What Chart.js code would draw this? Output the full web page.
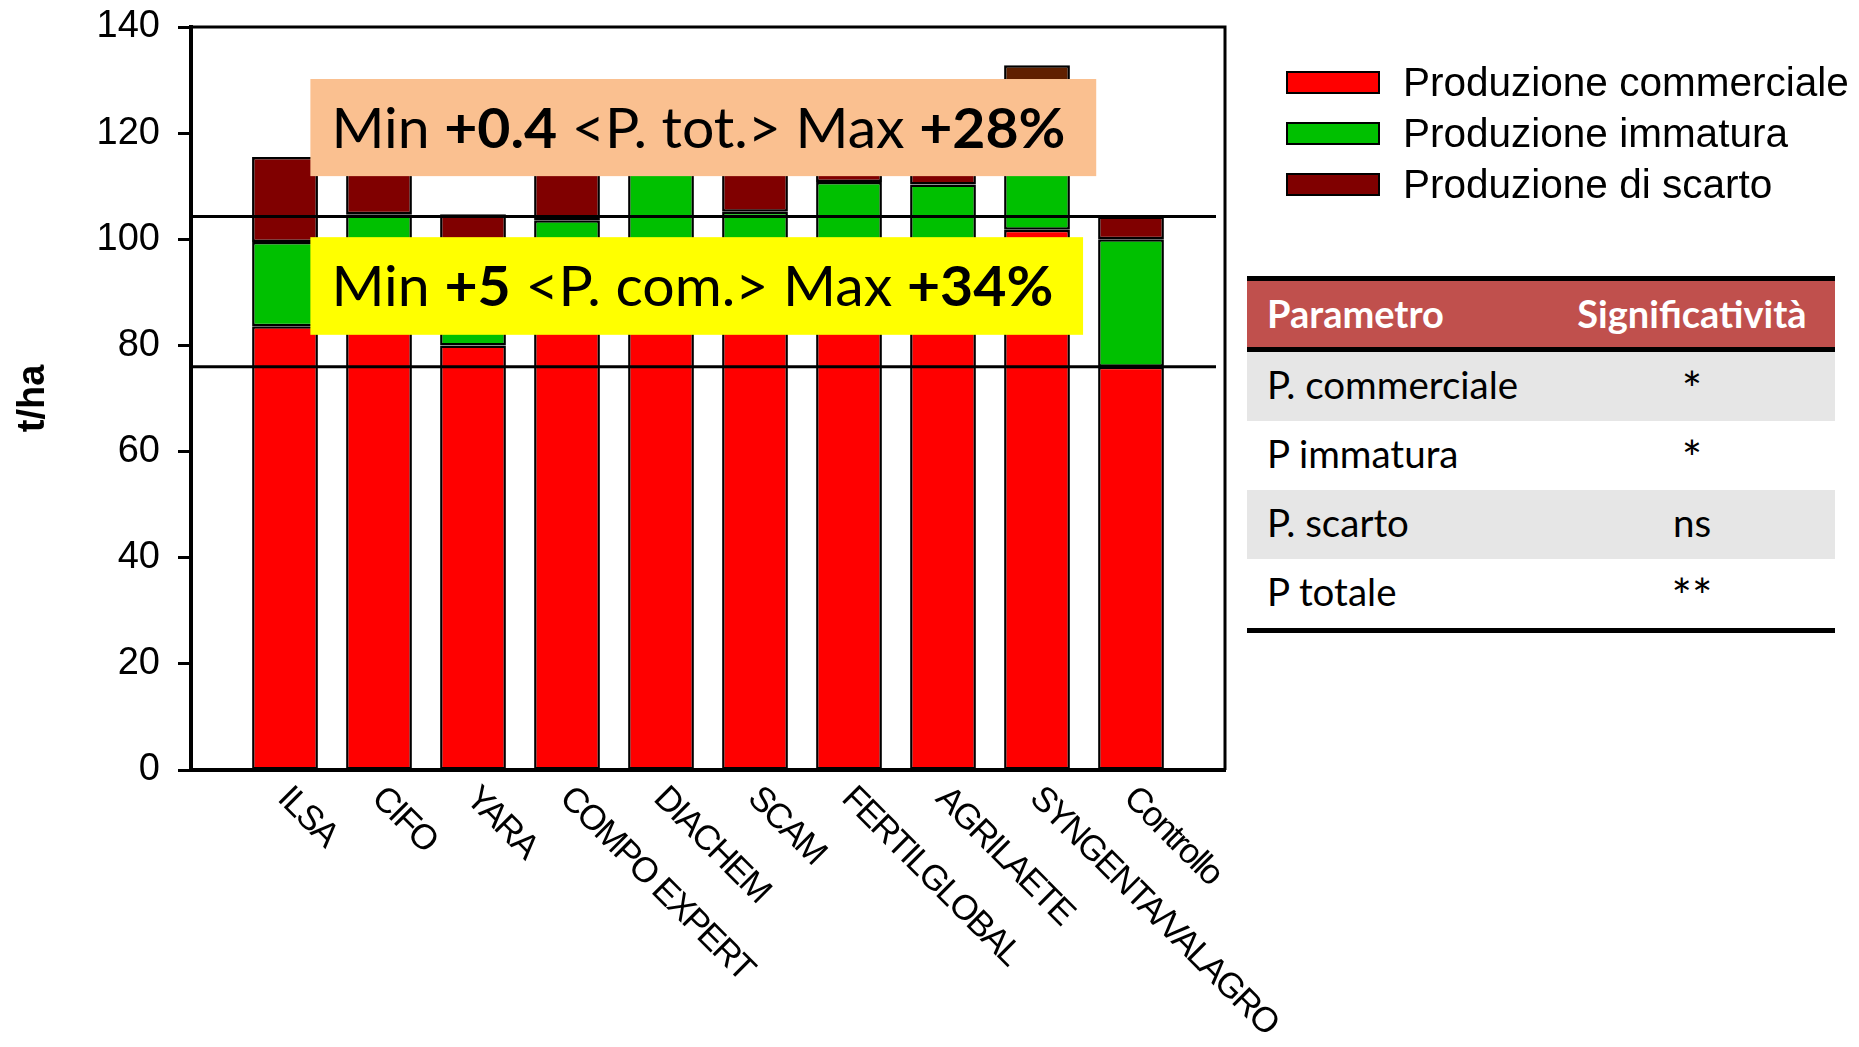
<!DOCTYPE html>
<html>
<head>
<meta charset="utf-8">
<script src="https://cdn.jsdelivr.net/npm/chart.js@4.4.0/dist/chart.umd.min.js"></script>
<style>
body { margin: 0; background: #fff; }
#wrap { position: relative; width: 1859px; height: 1047px; overflow: hidden; }
#wrap canvas { position: absolute; left: 0; top: 0; }
.leg-row { position: absolute; left: 1286px; height: 24px; display: flex; align-items: center; font: 40.5px "Liberation Sans", Arial, sans-serif; color: #000; white-space: nowrap; }
.leg-box { width: 90px; height: 19px; border: 2.5px solid #000; margin-right: 23px; }
.tbl { position: absolute; left: 1247px; width: 588px; font-family: Lato, "Open Sans", sans-serif; }
.tbl-line { position: absolute; left: 0; width: 588px; height: 5px; background: #000; }
.tbl-row { position: absolute; left: 0; width: 588px; display: flex; align-items: center; box-sizing: border-box; padding-bottom: 6px; }
.tbl-row .c1 { width: 282px; padding-left: 20px; }
.tbl-row .c2 { width: 286px; text-align: center; }
.star { font-size: 48px; position: relative; top: 5px; }
</style>
</head>
<body>
<div id="wrap">
  <canvas id="prodChart"></canvas>
</div>
<script>
// categories and series (t/ha)
const categories = ['ILSA', 'CIFO', 'YARA', 'COMPO EXPERT', 'DIACHEM', 'SCAM', 'FERTILGLOBAL', 'AGRILAETE', 'SYNGENTA/VALAGRO', 'Controllo'];
const commerciale = [83.6, 90.0, 80.0, 92.0, 95.0, 93.0, 96.0, 94.0, 101.8, 76.0];
const immatura = [15.9, 14.7, 19.0, 11.6, 20.0, 12.2, 14.8, 16.3, 23.2, 24.0];
const scarto = [16.0, 13.0, 5.7, 13.5, 7.0, 12.0, 3.0, 3.0, 7.8, 4.3];
const seriesNames = ['Produzione commerciale', 'Produzione immatura', 'Produzione di scarto'];
const yTicks = [0, 20, 40, 60, 80, 100, 120, 140];

// significance table
const params = ['P. commerciale', 'P immatura', 'P. scarto', 'P totale'];
const signif = ['*', '*', 'ns', '**'];

const colRed = '#FF0000';
const colGreen = '#00C000';
const colScarto = '#800000';

// reference lines at the control's total and commercial production
const last = categories.length - 1;
const refLines = [commerciale[last] + immatura[last] + scarto[last], commerciale[last]];

// pad the category axis with an empty slot at each end
const pad = arr => [null, ...arr, null];
const labels = ['', ...categories, ''];

// per-bar colours for the scarto segment (SYNGENTA is drawn a bit browner)
const scartoColors = pad(categories.map(c => c === 'SYNGENTA/VALAGRO' ? '#602000' : colScarto));

const annotations = [
    { x0: 1.27, x1: 9.63, y0: 130.2, y1: 111.9, fill: '#FAC090', width: 734,
      parts: [['Min ', false], ['+0.4', true], [' <P. tot.> Max ', false], ['+28%', true]] },
    { x0: 1.27, x1: 9.49, y0: 100.4, y1: 82.0, fill: '#FFFF00', width: 722,
      parts: [['Min ', false], ['+5', true], [' <P. com.> Max ', false], ['+34%', true]] }
];

const extras = {
    id: 'extras',
    afterDatasetsDraw(chart) {
        const ctx = chart.ctx;
        const a = chart.chartArea;
        const x = chart.scales.x, y = chart.scales.y;
        ctx.save();

        // top and right frame
        ctx.strokeStyle = '#000';
        ctx.lineWidth = 3;
        ctx.beginPath();
        ctx.moveTo(a.left, a.top);
        ctx.lineTo(a.right, a.top);
        ctx.lineTo(a.right, a.bottom);
        ctx.stroke();

        // reference lines
        refLines.forEach(v => {
            const py = y.getPixelForValue(v);
            ctx.beginPath();
            ctx.moveTo(a.left, py);
            ctx.lineTo(a.right - 9, py);
            ctx.stroke();
        });

        // annotation boxes
        annotations.forEach(an => {
            const left = x.getPixelForValue(an.x0), right = x.getPixelForValue(an.x1);
            const top = y.getPixelForValue(an.y0), bottom = y.getPixelForValue(an.y1);
            ctx.fillStyle = an.fill;
            ctx.fillRect(left, top, right - left, bottom - top);
            const size = 56;
            const reg = size + 'px Lato, "Open Sans", sans-serif';
            const bold = 'bold ' + reg;
            let total = 0;
            an.parts.forEach(p => { ctx.font = p[1] ? bold : reg; total += ctx.measureText(p[0]).width; });
            const sx = an.width / total;
            ctx.save();
            ctx.translate(left + 21, (top + bottom) / 2 + 20);
            ctx.scale(sx, 1);
            ctx.fillStyle = '#000';
            ctx.textAlign = 'left';
            ctx.textBaseline = 'alphabetic';
            let cx = 0;
            an.parts.forEach(p => {
                ctx.font = p[1] ? bold : reg;
                ctx.fillText(p[0], cx, 0);
                cx += ctx.measureText(p[0]).width;
            });
            ctx.restore();
        });

        // rotated category labels
        ctx.font = '35px "Liberation Sans", Arial, sans-serif';
        ctx.letterSpacing = '-2px';
        ctx.fillStyle = '#000';
        ctx.textAlign = 'left';
        ctx.textBaseline = 'middle';
        categories.forEach((c, i) => {
            const px = x.getPixelForValue(i + 1);
            ctx.save();
            ctx.translate(px - 2, a.bottom + 23);
            ctx.rotate(Math.PI / 4);
            ctx.fillText(c, 0, 0);
            ctx.restore();
        });
        ctx.letterSpacing = '0px';
        ctx.restore();
    }
};

const ctx = document.getElementById('prodChart').getContext('2d');
const prodChart = new Chart(ctx, {
    type: 'bar',
    data: {
        labels: labels,
        datasets: [
            { label: seriesNames[0], data: pad(commerciale), backgroundColor: colRed },
            { label: seriesNames[1], data: pad(immatura), backgroundColor: colGreen },
            { label: seriesNames[2], data: pad(scarto), backgroundColor: scartoColors }
        ].map(d => Object.assign(d, {
            borderColor: '#000',
            borderWidth: 2.5,
            borderSkipped: false,
            categoryPercentage: 1,
            barPercentage: 0.7
        }))
    },
    options: {
        responsive: true,
        maintainAspectRatio: false,
        animation: false,
        layout: { padding: { top: 27, right: 634, left: 0, bottom: 0 } },
        plugins: {
            legend: { display: false },
            tooltip: { enabled: false }
        },
        scales: {
            x: {
                stacked: true,
                offset: false,
                grid: { display: false },
                ticks: { display: false },
                border: { display: true, color: '#000', width: 4 },
                afterFit: function(scale) {
                    scale.height = 277;
                    scale.paddingLeft = 0;
                    scale.paddingRight = 0;
                }
            },
            y: {
                stacked: true,
                min: 0,
                max: 140,
                afterBuildTicks: function(scale) { scale.ticks = yTicks.map(v => ({ value: v })); },
                ticks: {
                    color: '#000',
                    padding: 18,
                    font: { family: '"Liberation Sans", Arial, sans-serif', size: 38 }
                },
                grid: {
                    display: true,
                    drawOnChartArea: false,
                    drawTicks: true,
                    tickLength: 13,
                    tickWidth: 3,
                    tickColor: '#000'
                },
                border: { display: true, color: '#000', width: 4 },
                title: {
                    display: true,
                    text: 't/ha',
                    color: '#000',
                    padding: { top: 11, bottom: 0 },
                    font: { family: '"Liberation Sans", Arial, sans-serif', size: 38, weight: 'bold' }
                },
                afterFit: function(scale) {
                    scale.width = 191;
                    scale.paddingTop = 0;
                    scale.paddingBottom = 0;
                }
            }
        }
    },
    plugins: [extras]
});

// Legend
const wrap = document.getElementById('wrap');
const legendColors = [colRed, colGreen, colScarto];
seriesNames.forEach((name, i) => {
    const row = document.createElement('div');
    row.className = 'leg-row';
    row.style.top = (70 + i * 51) + 'px';
    row.innerHTML = '<div class="leg-box" style="background:' + legendColors[i] + '"></div><span>' + name + '</span>';
    wrap.appendChild(row);
});

// Significance table
const tbl = document.createElement('div');
tbl.className = 'tbl';
tbl.style.top = '276px';
let html = '<div class="tbl-line" style="top:0"></div>';
html += '<div class="tbl-row" style="top:5px;height:66px;padding-bottom:2px;background:#C0504D;color:#fff;font-weight:bold;font-size:38px">' +
        '<div class="c1">Parametro</div><div class="c2">Significatività</div></div>';
html += '<div class="tbl-line" style="top:71px"></div>';
params.forEach((p, i) => {
    const top = 76 + i * 69;
    const bg = i % 2 === 0 ? '#E6E6E6' : '#FFFFFF';
    const s = signif[i].indexOf('*') >= 0 ? '<span class="star">' + signif[i] + '</span>' : signif[i];
    html += '<div class="tbl-row" style="top:' + top + 'px;height:69px;background:' + bg + ';font-size:38.5px;color:#000">' +
            '<div class="c1">' + p + '</div><div class="c2">' + s + '</div></div>';
});
html += '<div class="tbl-line" style="top:352px"></div>';
tbl.innerHTML = html;
wrap.appendChild(tbl);
</script>
</body>
</html>
